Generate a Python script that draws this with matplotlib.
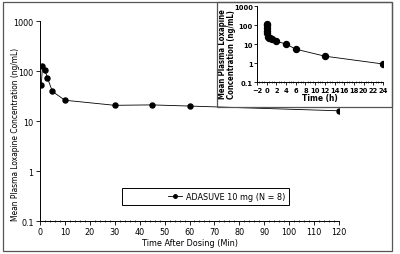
import matplotlib
matplotlib.use("Agg")
import matplotlib.pyplot as plt
from matplotlib import font_manager as fm
from matplotlib.patches import Rectangle
from matplotlib.ticker import FixedLocator, MultipleLocator, FuncFormatter

# pick a narrow sans font if one is installed
fonts = fm.fontManager.ttflist
names = {f.name for f in fonts}
stretch = 'normal'
if 'Liberation Sans Narrow' in names:
    family = ['Liberation Sans Narrow', 'DejaVu Sans']
    narrow = True
elif any(f.name == 'DejaVu Sans' and 'ondensed' in f.fname for f in fonts):
    family = ['DejaVu Sans']
    stretch = 'condensed'
    narrow = True
else:
    family = ['Liberation Sans', 'DejaVu Sans']
    narrow = False
plt.rcParams['font.family'] = family
plt.rcParams['font.stretch'] = stretch

fs = 6.5 if narrow else 5.6      # tick / label size
ylab_fs = 6.0 if narrow else 5.0
ins_fs = 5.4 if narrow else 4.4
ins_lab = 5.6 if narrow else 4.4

# mean plasma loxapine concentration (ng/mL)
minutes = [0.5, 1, 2, 3, 5, 10, 30, 45, 60, 120]
conc_min = [52, 125, 105, 72, 39, 26, 20.6, 21, 19.9, 16]
hours_late = [2, 4, 6, 12, 24]
conc_late = [14.5, 10.5, 5.6, 2.4, 0.93]

hours = [m / 60 for m in minutes[:-1]] + hours_late
conc_h = conc_min[:-1] + conc_late

label = "ADASUVE 10 mg (N = 8)"
yticks = [0.1, 1, 10, 100, 1000]
fmt = FuncFormatter(lambda v, p: "%g" % v)

fig = plt.figure(figsize=(4, 2.55), dpi=100)

# outer frame and inset frame
fig.patches.append(Rectangle((0.0075, 0.012), 0.9725, 0.976, transform=fig.transFigure,
                             fill=False, edgecolor='#555555', linewidth=0.9))
fig.patches.append(Rectangle((0.5425, 0.5765), 0.4375, 0.4115, transform=fig.transFigure,
                             fill=False, edgecolor='#555555', linewidth=0.9))

# main plot
ax = fig.add_axes([0.1, 0.1294, 0.7475, 0.7843])
ax.patch.set_alpha(0)
ax.plot(minutes, conc_min, '-o', color='black', linewidth=0.6, markersize=3.6, label=label)
ax.set_yscale('log')
ax.set_ylim(0.1, 1000)
ax.set_xlim(0, 120)
ax.yaxis.set_major_locator(FixedLocator(yticks))
ax.yaxis.set_major_formatter(fmt)
ax.yaxis.set_minor_locator(FixedLocator([]))
ax.xaxis.set_major_locator(MultipleLocator(10))
ax.xaxis.set_minor_locator(MultipleLocator(2))
for s in ['top', 'right']:
    ax.spines[s].set_visible(False)
for s in ['left', 'bottom']:
    ax.spines[s].set_linewidth(0.7)
ax.tick_params(which='major', length=3, width=0.6, labelsize=fs, pad=1.5)
ax.tick_params(axis='x', which='minor', length=2, width=0.5, direction='inout')
ax.set_xlabel("Time After Dosing (Min)", fontsize=fs, labelpad=1)
ax.set_ylabel("Mean Plasma Loxapine Concentration (ng/mL)", fontsize=ylab_fs)
ax.yaxis.set_label_coords(-0.068, 0.44)

# legend box
ax.add_patch(Rectangle((0.273, 0.08), 0.56, 0.085, transform=ax.transAxes,
                       fill=False, edgecolor='black', linewidth=0.7))
leg = ax.legend(loc='center right', bbox_to_anchor=(0.82, 0.1225), frameon=False,
                fontsize=fs, handlelength=1.6, handletextpad=0.4, borderpad=0,
                borderaxespad=0, markerscale=0.7)

# inset plot
ins = fig.add_axes([0.6425, 0.673, 0.315, 0.298])
ins.patch.set_alpha(0)
ins.plot(hours, conc_h, '-o', color='black', linewidth=0.6, markersize=4.3)
ins.set_yscale('log')
ins.set_ylim(0.1, 1000)
ins.set_xlim(-2, 24)
ins.yaxis.set_major_locator(FixedLocator(yticks))
ins.yaxis.set_major_formatter(fmt)
ins.yaxis.set_minor_locator(FixedLocator([]))
ins.xaxis.set_major_locator(MultipleLocator(2))
ins.xaxis.set_minor_locator(MultipleLocator(0.5))
for s in ['top', 'right']:
    ins.spines[s].set_visible(False)
for s in ['left', 'bottom']:
    ins.spines[s].set_linewidth(0.7)
ins.tick_params(which='major', length=2, width=0.6, labelsize=ins_fs, pad=1)
ins.tick_params(axis='x', which='minor', length=1.5, width=0.4, direction='inout')
for t in ins.get_xticklabels() + ins.get_yticklabels():
    t.set_fontweight('bold')
ins.set_xlabel("Time (h)", fontsize=ins_fs + 0.6, fontweight='bold', labelpad=0)
ins.set_ylabel("Mean Plasma Loxapine\nConcentration (ng/mL)", fontsize=ins_lab,
               fontweight='bold', linespacing=1.1)
ins.yaxis.set_label_coords(-0.165, 0.38)

fig.savefig("out.png", dpi=100)
